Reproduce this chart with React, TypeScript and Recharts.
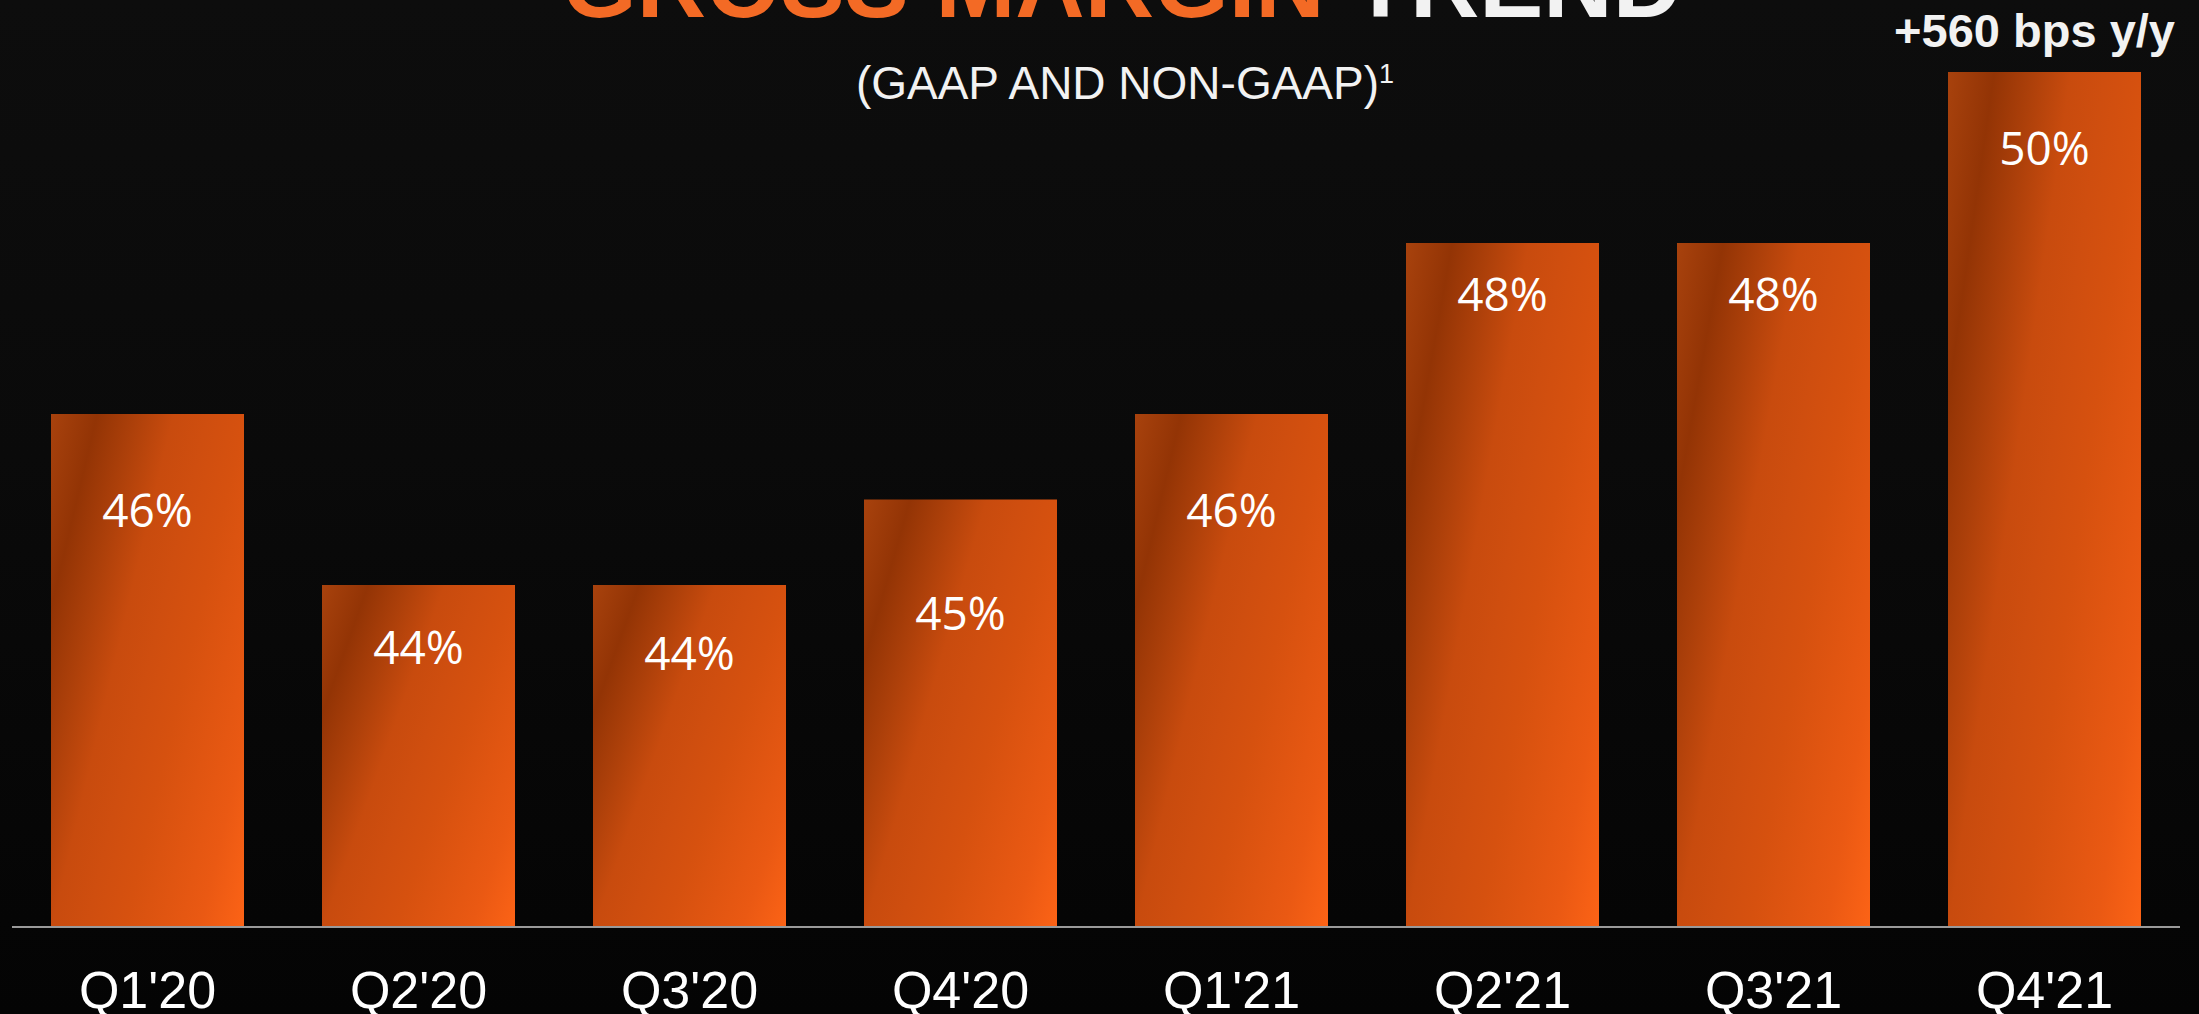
import React from "react";
import { BarChart, Bar, XAxis, YAxis, LabelList } from "recharts";

const categories = ["Q1'20", "Q2'20", "Q3'20", "Q4'20", "Q1'21", "Q2'21", "Q3'21", "Q4'21"];
const grossMargin = [46, 44, 44, 45, 46, 48, 48, 50];
const marginLabels = ["46%", "44%", "44%", "45%", "46%", "48%", "48%", "50%"];
// vertical offset of each value label from its bar's top (layout only)
const labelOffsets = [95, 61, 67, 112, 95, 50, 50, 75];

const titleOrange = "GROSS MARGIN ";
const titleWhite = "TREND";
const subtitle = "(GAAP AND NON-GAAP)";
const subtitleNote = "1";
const callout = "+560 bps y/y";

const data = categories.map((c, i) => ({ name: c, value: grossMargin[i], label: marginLabels[i] }));

const W = 2199;
const H = 1014;

const BarLabel = (props: any) => {
  const { x, y, width, index } = props;
  return (
    <text
      x={Number(x) + Number(width) / 2}
      y={Number(y) + labelOffsets[index]}
      textAnchor="middle"
      dominantBaseline="central"
      fill="#ffffff"
      fontFamily="'Open Sans', 'Noto Sans', sans-serif"
      fontSize={46}
    >
      {marginLabels[index]}
    </text>
  );
};

export default function App() {
  return (
    <div
      style={{
        position: "fixed",
        left: 0,
        top: 0,
        width: W,
        height: H,
        background: "linear-gradient(180deg, #0d0d0d 0%, #0a0a0a 45%, #040404 100%)",
        overflow: "hidden",
      }}
    >
      <BarChart
        width={W}
        height={H}
        data={data}
        margin={{ top: 72, right: 19, bottom: 0, left: 12 }}
      >
        <defs>
          <linearGradient id="barGrad" x1="0" y1="0" x2="1.167" y2="0.735">
            <stop offset="0" stopColor="#a8420d" />
            <stop offset="0.147" stopColor="#933405" />
            <stop offset="0.27" stopColor="#ad400a" />
            <stop offset="0.39" stopColor="#c84b0e" />
            <stop offset="0.5" stopColor="#cf4e0f" />
            <stop offset="0.62" stopColor="#d6510f" />
            <stop offset="0.86" stopColor="#ea5913" />
            <stop offset="1" stopColor="#fc6316" />
          </linearGradient>
        </defs>
        <XAxis
          dataKey="name"
          height={87}
          tickSize={0}
          tickMargin={44}
          axisLine={{ stroke: "#9a9a9a", strokeWidth: 2 }}
          tickLine={false}
          tick={{ fill: "#ffffff", fontSize: 52, fontFamily: "'Liberation Sans', Arial, sans-serif" }}
          interval={0}
        />
        <YAxis hide domain={[40, 50]} width={0} allowDataOverflow />
        <Bar dataKey="value" fill="url(#barGrad)" barSize={193} isAnimationActive={false}>
          <LabelList dataKey="label" content={BarLabel} />
        </Bar>
      </BarChart>
      <svg
        width={W}
        height={H}
        style={{ position: "absolute", left: 0, top: 0, pointerEvents: "none" }}
      >
        <text
          x={1122}
          y={17}
          textAnchor="middle"
          fontFamily="'Liberation Sans', Arial, sans-serif"
          fontWeight="bold"
          fontSize={96}
        >
          <tspan fill="#f36a25">{titleOrange}</tspan>
          <tspan fill="#f2f2f2">{titleWhite}</tspan>
        </text>
        <text
          x={1125}
          y={99}
          textAnchor="middle"
          fill="#f2f2f2"
          fontFamily="'Liberation Sans', Arial, sans-serif"
          fontSize={46}
        >
          {subtitle}
          <tspan fontSize={27} dy={-16}>{subtitleNote}</tspan>
        </text>
        <text
          x={2175}
          y={47}
          textAnchor="end"
          fill="#f2f2f2"
          fontFamily="'Liberation Sans', Arial, sans-serif"
          fontWeight="bold"
          fontSize={47}
        >
          {callout}
        </text>
      </svg>
    </div>
  );
}
